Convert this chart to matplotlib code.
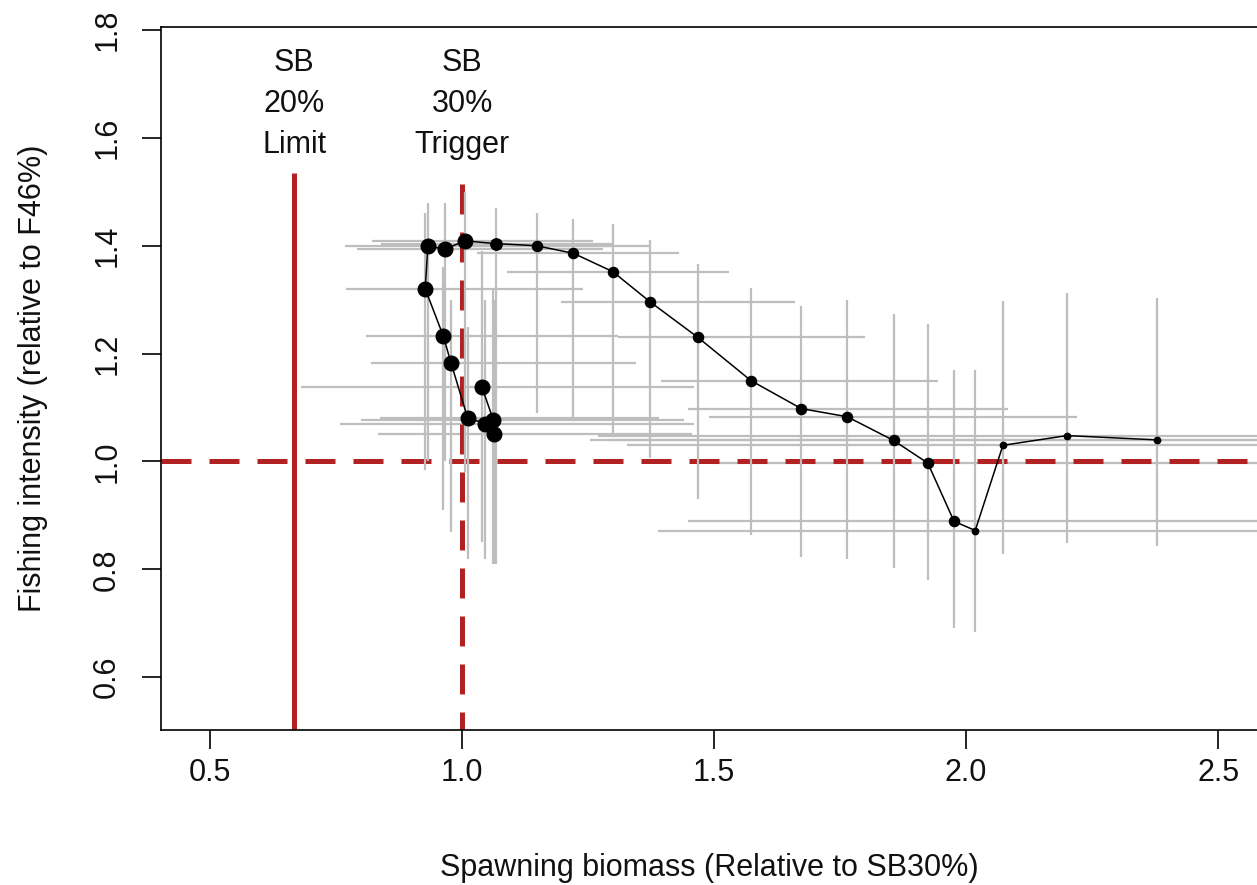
import numpy as np
import matplotlib.pyplot as plt

# ==================== DATA ==========================================

# spawning biomass relative to SB30% (one value per year, in time order)
sb_rel = np.array([1.039, 1.062, 1.063, 1.046, 1.011, 0.978, 0.963, 0.927, 0.932,
                   0.966, 1.006, 1.067, 1.148, 1.221, 1.299, 1.373, 1.468, 1.573,
                   1.673, 1.764, 1.856, 1.924, 1.976, 2.018, 2.073, 2.200, 2.379])
sb_lo = np.array([0.68, 0.80, 0.833, 0.758, 0.837, 0.82, 0.81, 0.77, 0.768,
                  0.792, 0.821, 0.84, 0.96, 1.03, 1.09, 1.196, 1.31, 1.395,
                  1.448, 1.49, 1.254, 1.50, 1.448, 1.389, 1.327, 1.27, 1.29])
sb_hi = np.array([1.46, 1.44, 1.456, 1.46, 1.39, 1.345, 1.31, 1.24, 1.304,
                  1.28, 1.26, 1.30, 1.375, 1.43, 1.53, 1.66, 1.80, 1.944,
                  2.083, 2.22, 2.7, 2.7, 2.75, 2.8, 2.9, 3.0, 3.2])

# fishing intensity relative to F46%
f_rel = np.array([1.139, 1.077, 1.051, 1.070, 1.081, 1.183, 1.232, 1.320, 1.399,
                  1.394, 1.409, 1.404, 1.400, 1.386, 1.352, 1.296, 1.230, 1.150,
                  1.098, 1.083, 1.039, 0.997, 0.889, 0.872, 1.030, 1.048, 1.040])
f_lo = np.array([0.85, 0.81, 0.81, 0.82, 0.82, 0.87, 0.91, 0.985, 1.00,
                 1.00, 0.98, 0.81, 1.09, 1.08, 1.05, 1.006, 0.93, 0.863,
                 0.822, 0.82, 0.802, 0.78, 0.691, 0.683, 0.828, 0.848, 0.844])
f_hi = np.array([1.39, 1.32, 1.30, 1.30, 1.25, 1.30, 1.36, 1.46, 1.48,
                 1.48, 1.50, 1.47, 1.46, 1.45, 1.44, 1.41, 1.367, 1.322,
                 1.289, 1.30, 1.274, 1.255, 1.169, 1.169, 1.298, 1.313, 1.304])

# reference points
sb_limit = 0.667     # SB20% relative to SB30%
sb_trigger = 1.0     # SB30%
f_target = 1.0       # F46%
ref_top = 1.535
limit_label = ["SB", "20%", "Limit"]
trigger_label = ["SB", "30%", "Trigger"]

xticks = [0.5, 1.0, 1.5, 2.0, 2.5]
yticks = [0.6, 0.8, 1.0, 1.2, 1.4, 1.6, 1.8]

# ==================== PLOT ==========================================

plt.rcParams["font.family"] = ["Liberation Sans", "DejaVu Sans"]
red = "#B22222"
grey = "#BEBEBE"
fs = 22

fig = plt.figure(figsize=(12.57, 8.85), dpi=100)
ax = fig.add_axes([0.1281, 0.1751, 0.8719, 0.7946])

# uncertainty in biomass sits under the reference lines
ax.hlines(f_rel, sb_lo, sb_hi, color=grey, lw=1.6, zorder=1)

# reference lines
ax.axhline(f_target, color=red, lw=3.6, dashes=(6, 3.6), zorder=2)
ax.vlines(sb_limit, 0, ref_top, color=red, lw=3.6, zorder=2)
ax.vlines(sb_trigger, 0, ref_top, color=red, lw=3.6, linestyles=(0, (6, 3.6)), zorder=2)

for xpos, lab in [(sb_limit, limit_label), (sb_trigger, trigger_label)]:
    ax.text(xpos, 1.663, "\n".join(lab), ha="center", va="center",
            fontsize=fs, linespacing=1.46, color="#111111")

# uncertainty in fishing intensity
ax.vlines(sb_rel, f_lo, f_hi, color=grey, lw=1.6, zorder=3)

# trajectory, points shrink towards the most recent years
ax.plot(sb_rel, f_rel, color="black", lw=1.1, zorder=4)
idx = np.arange(len(sb_rel))
msize = np.where(idx < 11, 10.5, np.where(idx < 23, 7.3, 4.6))
msize[11] = 8.2
for x, y, m in zip(sb_rel, f_rel, msize):
    ax.plot(x, y, "o", color="black", ms=m, zorder=5)

ax.set_xlim(0.4028, 2.577)
ax.set_ylim(0.502, 1.806)
ax.set_xticks(xticks)
ax.set_yticks(yticks)
ax.set_xticklabels([f"{v:.1f}" for v in xticks])
ax.set_yticklabels([f"{v:.1f}" for v in yticks], va="center")
ax.tick_params(axis="both", direction="out", length=14, width=1.2,
               labelsize=fs, labelcolor="#111111")
ax.tick_params(axis="x", pad=6)
ax.tick_params(axis="y", labelrotation=90, pad=14)
ax.spines["right"].set_visible(False)
for s in ["left", "top", "bottom"]:
    ax.spines[s].set_linewidth(1.2)

ax.set_xlabel("Spawning biomass (Relative to SB30%)", fontsize=fs, labelpad=47,
              color="#111111")
ax.set_ylabel("Fishing intensity (relative to F46%)", fontsize=fs, labelpad=32,
              color="#111111")

fig.savefig("out.png", dpi=100)
